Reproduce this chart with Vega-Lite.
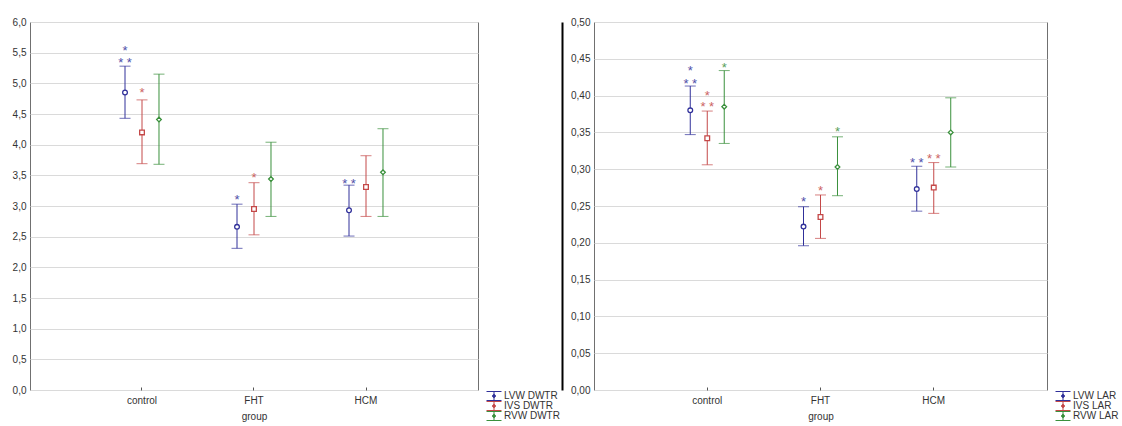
{
  "$schema": "https://vega.github.io/schema/vega-lite/v6.json",
  "padding": {"left": 11, "top": 16, "right": 0, "bottom": 0},
  "background": "white",
  "spacing": 0,
  "config": {
    "font": "Liberation Sans",
    "view": {"stroke": "#707070", "strokeWidth": 1},
    "axis": {"labelFontSize": 10, "labelColor": "#333", "titleFontSize": 10, "titleFontWeight": "normal", "titleColor": "#333"},
    "legend": {"labelFontSize": 10, "labelColor": "#333"}
  },
  "datasets": {
    "dwtr": [
      {"group": "control", "s": "LVW DWTR", "mean": 4.85, "lo": 4.43, "hi": 5.28},
      {"group": "control", "s": "IVS DWTR", "mean": 4.20, "lo": 3.69, "hi": 4.73},
      {"group": "control", "s": "RVW DWTR", "mean": 4.41, "lo": 3.68, "hi": 5.15},
      {"group": "FHT", "s": "LVW DWTR", "mean": 2.66, "lo": 2.31, "hi": 3.03},
      {"group": "FHT", "s": "IVS DWTR", "mean": 2.95, "lo": 2.53, "hi": 3.38},
      {"group": "FHT", "s": "RVW DWTR", "mean": 3.44, "lo": 2.83, "hi": 4.04},
      {"group": "HCM", "s": "LVW DWTR", "mean": 2.93, "lo": 2.51, "hi": 3.34},
      {"group": "HCM", "s": "IVS DWTR", "mean": 3.31, "lo": 2.83, "hi": 3.82},
      {"group": "HCM", "s": "RVW DWTR", "mean": 3.55, "lo": 2.83, "hi": 4.26}
    ],
    "dwtr_stars": [
      {"group": "control", "s": "LVW DWTR", "y": 5.38, "t": "* *"},
      {"group": "control", "s": "LVW DWTR", "y": 5.58, "t": "*"},
      {"group": "control", "s": "IVS DWTR", "y": 4.89, "t": "*"},
      {"group": "FHT", "s": "LVW DWTR", "y": 3.14, "t": "*"},
      {"group": "FHT", "s": "IVS DWTR", "y": 3.51, "t": "*"},
      {"group": "HCM", "s": "LVW DWTR", "y": 3.41, "t": "* *"}
    ],
    "lar": [
      {"group": "control", "s": "LVW LAR", "mean": 0.380, "lo": 0.347, "hi": 0.413},
      {"group": "control", "s": "IVS LAR", "mean": 0.342, "lo": 0.306, "hi": 0.379},
      {"group": "control", "s": "RVW LAR", "mean": 0.385, "lo": 0.335, "hi": 0.434},
      {"group": "FHT", "s": "LVW LAR", "mean": 0.222, "lo": 0.196, "hi": 0.249},
      {"group": "FHT", "s": "IVS LAR", "mean": 0.235, "lo": 0.206, "hi": 0.265},
      {"group": "FHT", "s": "RVW LAR", "mean": 0.303, "lo": 0.264, "hi": 0.344},
      {"group": "HCM", "s": "LVW LAR", "mean": 0.273, "lo": 0.243, "hi": 0.304},
      {"group": "HCM", "s": "IVS LAR", "mean": 0.275, "lo": 0.240, "hi": 0.309},
      {"group": "HCM", "s": "RVW LAR", "mean": 0.350, "lo": 0.303, "hi": 0.397}
    ],
    "lar_stars": [
      {"group": "control", "s": "LVW LAR", "y": 0.420, "t": "* *"},
      {"group": "control", "s": "LVW LAR", "y": 0.437, "t": "*"},
      {"group": "control", "s": "IVS LAR", "y": 0.388, "t": "* *"},
      {"group": "control", "s": "IVS LAR", "y": 0.404, "t": "*"},
      {"group": "control", "s": "RVW LAR", "y": 0.442, "t": "*"},
      {"group": "FHT", "s": "LVW LAR", "y": 0.259, "t": "*"},
      {"group": "FHT", "s": "IVS LAR", "y": 0.274, "t": "*"},
      {"group": "FHT", "s": "RVW LAR", "y": 0.354, "t": "*"},
      {"group": "HCM", "s": "LVW LAR", "y": 0.312, "t": "* *"},
      {"group": "HCM", "s": "IVS LAR", "y": 0.318, "t": "* *"}
    ]
  },
  "resolve": {"scale": {"color": "independent", "y": "independent", "x": "independent", "xOffset": "independent"}, "legend": {"color": "independent"}},
  "hconcat": [
    {
      "width": 448, "height": 368,
      "encoding": {
        "x": {"field": "group", "type": "nominal", "sort": ["control", "FHT", "HCM"], "scale": {"paddingInner": 0.545, "paddingOuter": 0.7725},
          "axis": {"title": "group", "labelAngle": 0, "domain": false, "grid": false, "tickSize": -3, "tickColor": "#555", "labelPadding": 8, "titlePadding": 6}},
        "xOffset": {"field": "s", "type": "nominal", "sort": ["LVW DWTR", "IVS DWTR", "RVW DWTR"]},
        "color": {"field": "s", "type": "nominal", "sort": ["LVW DWTR", "IVS DWTR", "RVW DWTR"],
          "scale": {"domain": ["LVW DWTR", "IVS DWTR", "RVW DWTR"], "range": ["#30309a", "#c44848", "#3a903c"]},
          "legend": {"title": null, "orient": "none", "legendX": 456, "legendY": 369, "padding": 0, "rowPadding": 0, "clipHeight": 10, "symbolSize": 225, "symbolStrokeWidth": 1, "symbolFillColor": "white", "symbolOpacity": 1, "labelOffset": 2,
            "symbolType": "M-1,-0.6H1M0,-0.6V0.6M-1,0.6H1M-0.2,0A0.2,0.2 0 1 0 0.2,0A0.2,0.2 0 1 0 -0.2,0"}}
      },
      "resolve": {"axis": {"y": "independent"}},
      "layer": [
        {"data": {"name": "dwtr"}, "mark": {"type": "rule", "strokeWidth": 1},
          "encoding": {"y": {"field": "lo", "type": "quantitative", "scale": {"domain": [0, 6], "nice": false, "zero": false},
            "axis": {"title": null, "values": [0, 0.5, 1, 1.5, 2, 2.5, 3, 3.5, 4, 4.5, 5, 5.5, 6], "labelOverlap": false, "labelExpr": "replace(format(datum.value, '.1f'), '.', ',')", "grid": true, "gridColor": "#dadada", "ticks": false, "domain": false, "labelPadding": 4}},
            "y2": {"field": "hi"}}},
        {"data": {"name": "dwtr"}, "mark": {"type": "tick", "orient": "horizontal", "size": 11, "thickness": 1},
          "encoding": {"y": {"field": "hi", "type": "quantitative", "axis": null}}},
        {"data": {"name": "dwtr"}, "mark": {"type": "tick", "orient": "horizontal", "size": 11, "thickness": 1},
          "encoding": {"y": {"field": "lo", "type": "quantitative", "axis": null}}},
        {"data": {"name": "dwtr"}, "transform": [{"filter": "datum.s == 'LVW DWTR'"}], "mark": {"type": "point", "shape": "circle", "filled": false, "fill": "white", "fillOpacity": 1, "opacity": 1, "strokeWidth": 1.3, "size": 22},
          "encoding": {"y": {"field": "mean", "type": "quantitative", "axis": null}}},
        {"data": {"name": "dwtr"}, "transform": [{"filter": "datum.s == 'IVS DWTR'"}], "mark": {"type": "point", "shape": "square", "filled": false, "fill": "white", "fillOpacity": 1, "opacity": 1, "strokeWidth": 1.3, "size": 22},
          "encoding": {"y": {"field": "mean", "type": "quantitative", "axis": null}}},
        {"data": {"name": "dwtr"}, "transform": [{"filter": "datum.s == 'RVW DWTR'"}], "mark": {"type": "point", "shape": "diamond", "filled": false, "fill": "white", "fillOpacity": 1, "opacity": 1, "strokeWidth": 1.3, "size": 22},
          "encoding": {"y": {"field": "mean", "type": "quantitative", "axis": null}}},
        {"data": {"name": "dwtr_stars"}, "mark": {"type": "text", "fontSize": 13, "baseline": "alphabetic", "dy": 7, "opacity": 0.85},
          "encoding": {"y": {"field": "y", "type": "quantitative", "axis": null}, "text": {"field": "t"}}}
      ]
    },
    {
      "width": 453, "height": 368,
      "encoding": {
        "x": {"field": "group", "type": "nominal", "sort": ["control", "FHT", "HCM"], "scale": {"paddingInner": 0.55, "paddingOuter": 0.775},
          "axis": {"title": "group", "labelAngle": 0, "domain": false, "grid": false, "tickSize": -3, "tickColor": "#555", "labelPadding": 8, "titlePadding": 6}},
        "xOffset": {"field": "s", "type": "nominal", "sort": ["LVW LAR", "IVS LAR", "RVW LAR"]},
        "color": {"field": "s", "type": "nominal", "sort": ["LVW LAR", "IVS LAR", "RVW LAR"],
          "scale": {"domain": ["LVW LAR", "IVS LAR", "RVW LAR"], "range": ["#30309a", "#c44848", "#3a903c"]},
          "legend": {"title": null, "orient": "none", "legendX": 461, "legendY": 369, "padding": 0, "rowPadding": 0, "clipHeight": 10, "symbolSize": 225, "symbolStrokeWidth": 1, "symbolFillColor": "white", "symbolOpacity": 1, "labelOffset": 2,
            "symbolType": "M-1,-0.6H1M0,-0.6V0.6M-1,0.6H1M-0.2,0A0.2,0.2 0 1 0 0.2,0A0.2,0.2 0 1 0 -0.2,0"}}
      },
      "resolve": {"axis": {"y": "independent"}},
      "layer": [
        {"data": {"name": "lar"}, "mark": {"type": "rule", "strokeWidth": 1},
          "encoding": {"y": {"field": "lo", "type": "quantitative", "scale": {"domain": [0, 0.5], "nice": false, "zero": false},
            "axis": {"title": null, "values": [0, 0.05, 0.1, 0.15, 0.2, 0.25, 0.3, 0.35, 0.4, 0.45, 0.5], "labelOverlap": false, "labelExpr": "replace(format(datum.value, '.2f'), '.', ',')", "grid": true, "gridColor": "#dadada", "ticks": false, "domain": false, "labelPadding": 4}},
            "y2": {"field": "hi"}}},
        {"data": {"name": "lar"}, "mark": {"type": "tick", "orient": "horizontal", "size": 11, "thickness": 1},
          "encoding": {"y": {"field": "hi", "type": "quantitative", "axis": null}}},
        {"data": {"name": "lar"}, "mark": {"type": "tick", "orient": "horizontal", "size": 11, "thickness": 1},
          "encoding": {"y": {"field": "lo", "type": "quantitative", "axis": null}}},
        {"data": {"name": "lar"}, "transform": [{"filter": "datum.s == 'LVW LAR'"}], "mark": {"type": "point", "shape": "circle", "filled": false, "fill": "white", "fillOpacity": 1, "opacity": 1, "strokeWidth": 1.3, "size": 22},
          "encoding": {"y": {"field": "mean", "type": "quantitative",
              "axis": {"orient": "left", "offset": 32, "labels": false, "ticks": false, "grid": false, "domain": true, "domainColor": "#000", "domainWidth": 2, "title": null}}}},
        {"data": {"name": "lar"}, "transform": [{"filter": "datum.s == 'IVS LAR'"}], "mark": {"type": "point", "shape": "square", "filled": false, "fill": "white", "fillOpacity": 1, "opacity": 1, "strokeWidth": 1.3, "size": 22},
          "encoding": {"y": {"field": "mean", "type": "quantitative", "axis": null}}},
        {"data": {"name": "lar"}, "transform": [{"filter": "datum.s == 'RVW LAR'"}], "mark": {"type": "point", "shape": "diamond", "filled": false, "fill": "white", "fillOpacity": 1, "opacity": 1, "strokeWidth": 1.3, "size": 22},
          "encoding": {"y": {"field": "mean", "type": "quantitative", "axis": null}}},
        {"data": {"name": "lar_stars"}, "mark": {"type": "text", "fontSize": 13, "baseline": "alphabetic", "dy": 7, "opacity": 0.85},
          "encoding": {"y": {"field": "y", "type": "quantitative", "axis": null}, "text": {"field": "t"}}}
      ]
    }
  ]
}
